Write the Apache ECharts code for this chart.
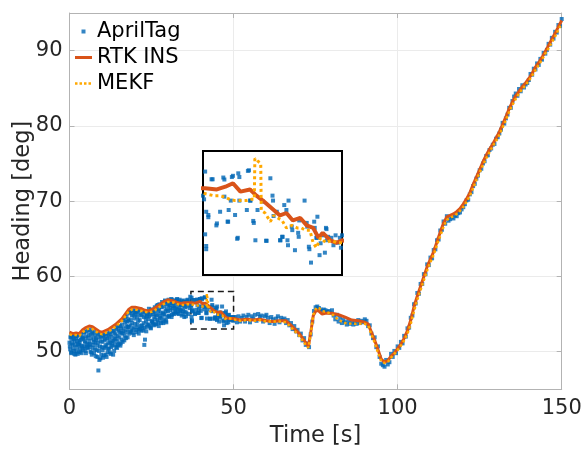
<!DOCTYPE html>
<html><head><meta charset="utf-8">
<script src="https://cdn.jsdelivr.net/npm/echarts@6/dist/echarts.min.js"></script>
<style>html,body{margin:0;padding:0;background:#fff}#c{width:581px;height:451px}</style>
</head><body><div id="c"></div><script>
// ---- data ----
const xTickValues = [0, 50, 100, 150];
const yTickValues = [50, 60, 70, 80, 90];
const insetRange = { t0: 37, t1: 50, h0: 53, h1: 58 };

// AprilTag, segment A: t = 0 .. 36 s, sampled every 0.2 s
const aprilStartA = 0, aprilStepA = 0.2;
const aprilValsA = [
51.2,50.3,52.0,49.8,51.6,50.9,52.2,50.1,51.4,49.6,
51.8,50.6,52.1,51.0,49.9,51.5,50.4,52.3,50.8,51.9,
50.2,51.7,52.5,50.7,51.2,49.8,52.7,51.0,50.5,52.2,
51.4,52.9,50.0,51.8,49.6,52.4,50.9,51.3,52.6,50.3,
49.4,51.6,50.8,52.3,47.5,50.1,51.9,49.1,52.0,50.6,
51.3,49.2,52.2,50.5,51.7,49.6,50.9,52.4,49.9,51.1,
50.4,52.6,51.2,49.7,52.0,50.8,51.5,52.8,50.1,51.8,
52.3,50.6,53.2,51.4,50.9,52.8,51.9,53.4,51.1,52.5,
53.6,51.3,52.7,54.4,52.1,53.9,51.8,54.7,52.9,53.3,
54.1,52.4,55.3,53.5,52.8,54.8,53.0,55.5,52.2,54.4,
53.7,55.4,52.6,54.6,53.2,55.1,52.9,54.2,55.6,53.4,
54.9,53.1,55.3,53.8,50.9,51.6,54.5,52.7,55.0,53.6,
54.3,55.7,53.4,54.9,53.1,55.5,54.0,53.7,55.2,54.6,
55.9,53.6,54.8,56.1,54.2,55.4,53.4,56.3,54.7,55.1,
54.5,56.6,55.2,53.8,56.0,54.9,56.7,54.1,55.6,56.3,
55.4,56.9,54.7,56.2,55.8,57.0,54.9,56.5,55.1,56.7,
56.1,55.3,56.8,55.7,57.0,55.1,56.4,55.9,56.9,55.5,
56.5,54.8,56.2,55.4,56.8,54.6,55.9,56.6,55.2,56.3,
56.9];

// AprilTag, segment A2: t = 0.1 .. 35.9 s, sampled every 0.2 s (interleaved detections)
const aprilStartA2 = 0.1, aprilStepA2 = 0.2;
const aprilValsA2 = [
50.7,51.9,49.9,51.1,52.1,50.4,51.7,49.7,50.9,52.0,
50.1,51.4,49.7,52.2,50.9,51.2,50.0,51.6,49.8,50.7,
51.9,50.4,52.6,51.4,50.1,52.0,50.6,51.8,52.8,50.9,
50.6,51.0,52.3,49.9,52.7,50.5,51.6,49.8,52.1,51.2,
51.8,50.2,49.3,51.2,52.4,48.9,50.7,51.4,49.6,52.3,
50.2,52.0,49.5,51.5,50.7,52.3,49.3,51.8,50.4,52.1,
51.6,49.9,52.3,50.6,51.1,52.7,49.6,51.4,52.5,50.9,
51.7,53.0,50.5,52.1,53.4,51.0,52.6,50.8,53.1,51.6,
52.4,54.2,53.1,51.5,54.6,52.6,53.4,54.0,51.9,54.3,
53.3,55.1,52.6,54.2,55.4,53.8,52.5,54.9,53.2,55.2,
54.9,52.9,55.3,53.6,54.1,52.4,55.5,53.0,54.8,52.8,
53.5,55.4,52.8,54.6,53.2,55.1,54.0,53.3,54.7,55.2,
53.6,54.7,55.3,53.2,55.6,54.1,53.9,55.0,53.5,55.4,
54.3,55.7,53.7,54.9,56.2,53.9,55.6,54.4,56.0,53.8,
55.9,54.0,56.4,55.0,54.3,56.8,55.4,53.9,56.5,54.6,
56.0,54.8,56.7,55.5,56.4,54.6,56.9,55.7,56.1,55.0,
55.8,56.6,55.2,56.9,55.6,56.3,55.0,56.7,55.4,56.2,
55.6,56.7,55.0,56.1,56.6,55.3,56.4,54.7,56.0,56.8];

// AprilTag, segment B: t = 36 .. 50 s
const aprilPairsB = [
[36.2,55.0],[36.4,56.7],[36.6,55.8],[36.8,57.3],[37.0,56.2],
[37.2,57.17],[37.1,56.05],[37.3,55.55],[37.2,54.64],[37.3,54.17],[37.3,54.04],[37.5,55.42],[37.5,55.33],
[37.8,56.86],[37.9,56.86],[38.3,55.08],[38.25,55.0],[38.6,55.55],[38.9,56.93],[39.0,56.85],[39.0,56.16],
[39.3,55.15],[39.35,55.15],[39.4,55.62],[39.6,56.0],[39.7,56.95],[39.8,57.0],[40.0,55.42],[40.2,54.46],
[40.25,54.5],[40.3,57.1],[40.4,56.95],[40.4,56.0],[41.1,55.62],[41.2,57.2],[41.3,57.22],[41.4,56.0],
[41.45,56.0],[41.7,55.18],[41.75,55.1],[41.9,54.4],[42.1,55.62],[42.6,55.96],[42.9,54.38],[42.95,54.38],
[43.3,56.9],[43.5,56.2],[43.55,56.0],[43.6,55.38],[43.9,55.55],[44.2,54.4],[44.25,54.4],[44.4,54.54],
[44.45,54.54],[44.6,55.82],[44.8,55.62],[44.9,54.4],[44.95,54.2],[45.0,56.0],[45.3,54.95],[45.35,54.81],
[45.6,54.0],[45.9,54.7],[45.95,54.54],[46.0,55.2],[46.5,56.0],[46.7,55.1],[46.75,54.95],[46.9,54.14],
[46.95,54.04],[47.1,53.5],[47.4,55.15],[47.45,54.9],[47.6,54.5],[47.65,54.5],[47.7,55.35],[47.9,53.8],
[48.0,54.28],[48.2,54.65],[48.25,54.6],[48.5,54.9],[48.55,54.85],[48.4,53.9],[48.7,54.54],[48.6,54.4],
[49.0,54.5],[49.2,54.2],[49.4,54.6],[49.6,54.3],[49.8,54.5],[49.9,54.1],[50.0,54.6]];

// AprilTag, segment C: t = 50.5 .. 150 s, sampled every 0.5 s
const aprilStartC = 50.5, aprilStepC = 0.5;
const aprilValsC = [
54.6,53.9,54.7,54.0,54.5,54.8,54.0,54.6,54.9,53.9,
54.7,54.4,54.9,54.1,55.0,54.6,54.8,54.0,54.7,54.9,
54.5,53.8,54.6,54.3,53.7,54.4,54.7,53.9,54.5,54.2,
54.4,53.8,54.2,53.5,53.8,53.0,53.4,52.7,52.9,52.2,
52.4,51.5,51.8,50.9,51.1,50.6,52.3,54.0,55.4,55.9,
56.0,55.8,55.6,55.4,55.6,55.5,55.3,55.4,55.2,55.5,
54.8,54.3,54.9,54.0,54.5,53.8,54.2,53.9,53.6,54.1,
53.7,54.0,53.6,53.9,53.7,54.2,53.8,54.1,53.9,54.3,
54.1,53.4,53.5,52.4,51.8,51.9,50.6,50.7,49.3,48.4,
48.2,48.0,48.9,48.3,48.6,49.7,49.3,50.1,49.8,50.7,
50.5,51.3,51.1,52.1,52.0,53.1,53.2,54.5,54.8,56.3,
56.4,57.8,57.7,59.0,59.0,60.3,60.3,61.6,61.5,62.5,
62.4,63.5,63.6,64.8,64.9,66.1,66.2,67.3,67.0,68.0,
67.4,67.6,67.9,67.7,68.1,68.0,68.4,68.5,68.9,69.2,
69.6,70.1,70.2,70.9,71.2,72.0,72.3,73.0,73.4,74.1,
74.3,75.0,75.3,76.0,76.1,76.8,77.0,77.5,77.6,78.3,
78.5,79.0,79.5,80.4,80.3,81.0,81.5,82.4,82.4,83.3,
83.9,84.3,84.0,84.9,84.6,85.4,85.1,85.5,85.7,86.1,
86.9,86.8,87.6,87.5,88.3,88.1,88.9,88.8,89.7,89.6,
90.1,90.9,90.8,91.7,91.6,92.5,92.4,93.4,93.3,94.2];

// RTK INS heading [t, deg]
const rtkIns = [
[0,52.6],[1,52.4],[2,52.5],[3,52.4],[4,52.9],[5,53.2],[6,53.4],[7,53.3],[8,53.0],[9,52.7],
[10,52.6],[11,52.8],[12,53.0],[13,53.3],[14,53.6],[15,54.0],[16,54.4],[17,55.0],[18,55.6],[19,55.9],
[20,55.9],[21,55.8],[22,55.7],[23,55.5],[24,55.4],[25,55.6],[26,55.8],[27,56.1],[28,56.4],[29,56.7],
[30,56.9],[31,56.8],[32,56.7],[33,56.5],[34,56.4],[35,56.5],[36,56.5],[37.2,56.5],[38.3,56.45],[39.1,56.56],
[39.8,56.7],[40.5,56.36],[41.4,56.45],[42.0,56.2],[42.6,56.0],[43.4,55.7],[44.2,55.4],[44.8,55.5],[45.4,55.2],
[46.1,55.3],[46.7,55.0],[47.3,54.9],[47.8,54.5],[48.2,54.7],[48.9,54.4],[49.5,54.3],[50,54.4],[52,54.2],
[54,54.3],[56,54.2],[58,54.3],[60,54.1],[62,54.0],[64,54.1],[66,54.1],[68,53.3],[70,52.4],[72,51.2],
[72.8,50.7],[73.5,52.5],[74.3,54.8],[75.2,55.5],[76,55.4],[77,55.0],[78,55.1],[80,55.1],[82,54.9],[84,54.6],
[86,54.2],[88,54.1],[90,53.9],[91,53.7],[92,52.6],[93,51.5],[94,50.3],[95,49.0],[96,48.6],[97,48.8],
[98,49.4],[99,49.8],[100,50.4],[101,51.0],[102,51.8],[103,52.8],[104,54.2],[105,56.0],[106,57.4],[107,58.7],
[108,60.0],[109,61.3],[110,62.3],[111,63.3],[112,64.6],[113,65.9],[114,67.1],[115,67.9],[116,68.1],[117,68.3],
[118,68.6],[119,69.0],[120,69.6],[121,70.3],[122,71.1],[123,72.2],[124,73.2],[125,74.2],[126,75.2],[127,76.1],
[128,76.9],[129,77.6],[130,78.4],[131,79.2],[132,80.2],[133,81.2],[134,82.3],[135,83.2],[136,84.0],[137,84.6],
[138,85.2],[139,85.7],[140,86.3],[141,87.0],[142,87.8],[143,88.4],[144,89.1],[145,89.9],[146,90.7],[147,91.5],
[148,92.3],[149,93.2],[150,94.0]];

// MEKF heading [t, deg]
const mekf = [
[0,52.3],[1,52.2],[2,52.2],[3,52.1],[4,52.6],[5,52.9],[6,53.1],[7,53.0],[8,52.7],[9,52.4],
[10,52.3],[11,52.5],[12,52.7],[13,53.0],[14,53.3],[15,53.7],[16,54.1],[17,54.7],[18,55.3],[19,55.6],
[20,55.6],[21,55.5],[22,55.4],[23,55.3],[24,55.2],[25,55.3],[26,55.5],[27,55.8],[28,56.1],[29,56.4],
[30,56.6],[31,56.6],[32,56.5],[33,56.3],[34,56.2],[35,56.2],[36,56.3],[37.0,56.3],[37.5,56.25],[38.0,56.2],
[38.5,56.2],[39.0,56.15],[39.5,56.05],[40.0,56.0],[40.5,56.0],[41.0,56.0],[41.5,56.05],[41.8,56.05],[41.85,57.7],
[42.1,57.6],[42.4,57.5],[42.45,55.6],[42.8,55.5],[43.3,55.15],[43.6,55.4],[44.0,55.3],[44.4,55.2],[44.8,54.9],
[45.3,55.0],[45.8,54.9],[46.2,54.9],[46.6,54.8],[47.0,54.8],[47.3,54.3],[47.6,54.1],[48.0,54.5],[48.5,54.3],
[49.0,54.4],[49.5,54.3],[50,54.3],[52,54.1],[54,54.2],[56,54.1],[58,54.2],[60,54.0],[62,54.0],[64,54.0],
[66,53.9],[68,53.0],[70,52.1],[72,50.9],[72.8,50.5],[73.5,52.3],[74.3,54.9],[75.2,55.8],[76,55.8],[77,55.4],
[78,55.3],[80,55.0],[82,54.2],[84,53.8],[86,53.7],[88,53.7],[90,53.7],[91,53.5],[92,52.3],[93,51.2],
[94,49.9],[95,48.7],[96,48.5],[97,48.6],[98,49.2],[99,49.7],[100,50.2],[101,50.8],[102,51.5],[103,52.4],
[104,53.7],[105,55.4],[106,56.9],[107,58.2],[108,59.5],[109,60.8],[110,61.9],[111,62.9],[112,64.2],[113,65.4],
[114,66.6],[115,67.5],[116,67.8],[117,68.0],[118,68.3],[119,68.7],[120,69.2],[121,69.9],[122,70.7],[123,71.7],
[124,72.8],[125,73.8],[126,74.8],[127,75.7],[128,76.5],[129,77.3],[130,78.0],[131,78.8],[132,79.8],[133,80.8],
[134,81.9],[135,82.8],[136,83.6],[137,84.3],[138,84.9],[139,85.4],[140,86.0],[141,86.7],[142,87.4],[143,88.1],
[144,88.8],[145,89.6],[146,90.3],[147,91.1],[148,91.9],[149,92.8],[150,93.6]];

// ---- build ----
const aprilTag = []
  .concat(aprilValsA.map((v, i) => [aprilStartA + i * aprilStepA, v]))
  .concat(aprilValsA2.map((v, i) => [aprilStartA2 + i * aprilStepA2, v]))
  .concat(aprilPairsB)
  .concat(aprilValsC.map((v, i) => [aprilStartC + i * aprilStepC, v]));

const FONT = 'DejaVu Sans';
const AXIS_GRAY = '#b3b3b3';
const GRID_GRAY = '#ebebeb';
const TXT = '#262626';
const BLUE = '#0066B5';
const RED = '#D95319';
const YEL = '#FFA800';

const frameAxisCommon = {
  axisLine: { show: true, onZero: false, lineStyle: { color: AXIS_GRAY, width: 1 } },
  axisTick: { show: true, inside: true, length: 5, lineStyle: { color: AXIS_GRAY } }
};

const chart = echarts.init(document.getElementById('c'), null, { renderer: 'canvas' });
chart.setOption({
  animation: false,
  backgroundColor: '#fff',
  textStyle: { fontFamily: FONT },
  grid: [
    { left: 69.5, top: 13, right: 19.3, bottom: 61.7, show: false, containLabel: false, outerBoundsMode: 'none' },
    { left: 203, top: 151, width: 139, height: 124, show: true, backgroundColor: '#fff',
      borderColor: '#000', borderWidth: 2, z: 5, containLabel: false, outerBoundsMode: 'none' }
  ],
  legend: {
    left: 70, top: 16, orient: 'vertical', itemWidth: 17, itemHeight: 14, itemGap: 5,
    textStyle: { fontSize: 21, color: '#000', fontFamily: FONT },
    itemStyle: { borderWidth: 0 },
    data: [
      { name: 'AprilTag', icon: 'path://M0,0M17,14M6.5,5h4v4h-4z', itemStyle: { color: BLUE } },
      { name: 'RTK INS', icon: 'path://M0,0M17,14M0,5.5h17v3H0z', itemStyle: { color: RED } },
      { name: 'MEKF', icon: 'path://M0,0M17,14M0,5.8h2.5v2.5H0zM4.5,5.8h2.5v2.5H4.5zM9,5.8h2.5v2.5H9zM13.5,5.8h2.5v2.5H13.5z', itemStyle: { color: YEL } }
    ]
  },
  xAxis: [
    Object.assign({}, frameAxisCommon, {
      gridIndex: 0, type: 'value', min: xTickValues[0], max: xTickValues[xTickValues.length - 1],
      interval: 50, position: 'bottom',
      axisLabel: { fontSize: 21, color: TXT, margin: 9, fontFamily: FONT },
      splitLine: { show: true, lineStyle: { color: GRID_GRAY, width: 1 } },
      name: 'Time [s]', nameLocation: 'middle', nameGap: 35, nameMoveOverlap: false,
      nameTextStyle: { fontSize: 22.5, color: TXT, fontFamily: FONT }
    }),
    Object.assign({}, frameAxisCommon, {
      gridIndex: 0, type: 'value', min: xTickValues[0], max: xTickValues[xTickValues.length - 1],
      interval: 50, position: 'top', axisLabel: { show: false }, splitLine: { show: false }
    }),
    { gridIndex: 1, type: 'value', min: insetRange.t0, max: insetRange.t1, show: false }
  ],
  yAxis: [
    Object.assign({}, frameAxisCommon, {
      gridIndex: 0, type: 'value', min: 45, max: 95, position: 'left',
      axisLabel: { fontSize: 21, color: TXT, margin: 7, fontFamily: FONT,
                   showMinLabel: false, showMaxLabel: false },
      splitLine: { show: true, lineStyle: { color: GRID_GRAY, width: 1 } },
      name: 'Heading [deg]', nameLocation: 'middle', nameGap: 35, nameMoveOverlap: false,
      nameTextStyle: { fontSize: 22.5, color: TXT, fontFamily: FONT }
    }),
    Object.assign({}, frameAxisCommon, {
      gridIndex: 0, type: 'value', min: 45, max: 95, position: 'right',
      axisLabel: { show: false }, splitLine: { show: false }
    }),
    { gridIndex: 1, type: 'value', min: insetRange.h0, max: insetRange.h1, show: false }
  ],
  series: [
    {
      name: 'AprilTag', type: 'scatter', xAxisIndex: 0, yAxisIndex: 0, data: aprilTag,
      symbol: 'rect', symbolSize: 4, itemStyle: { color: BLUE }, z: 2,
      markArea: {
        silent: true,
        itemStyle: { color: 'rgba(0,0,0,0)', borderColor: '#1a1a1a', borderWidth: 1.5, borderType: [6, 4] },
        data: [[{ xAxis: insetRange.t0, yAxis: insetRange.h0 }, { xAxis: insetRange.t1, yAxis: insetRange.h1 }]]
      }
    },
    {
      name: 'RTK INS', type: 'line', xAxisIndex: 0, yAxisIndex: 0, data: rtkIns,
      symbol: 'none', showSymbol: false, lineStyle: { color: RED, width: 3 },
      itemStyle: { color: RED }, z: 3
    },
    {
      name: 'MEKF', type: 'line', xAxisIndex: 0, yAxisIndex: 0, data: mekf,
      symbol: 'none', showSymbol: false, lineStyle: { color: YEL, width: 2.5, type: 'dotted' },
      itemStyle: { color: YEL }, z: 4
    },
    {
      name: 'AprilTag', type: 'scatter', xAxisIndex: 2, yAxisIndex: 2, data: aprilTag, clip: true,
      symbol: 'rect', symbolSize: 4, itemStyle: { color: BLUE }, z: 6
    },
    {
      name: 'RTK INS', type: 'line', xAxisIndex: 2, yAxisIndex: 2, data: rtkIns, clip: true,
      symbol: 'none', showSymbol: false, lineStyle: { color: RED, width: 4 }, itemStyle: { color: RED }, z: 7
    },
    {
      name: 'MEKF', type: 'line', xAxisIndex: 2, yAxisIndex: 2, data: mekf, clip: true,
      symbol: 'none', showSymbol: false, lineStyle: { color: YEL, width: 3, type: 'dotted' }, itemStyle: { color: YEL }, z: 8
    }
  ]
});
</script></body></html>
